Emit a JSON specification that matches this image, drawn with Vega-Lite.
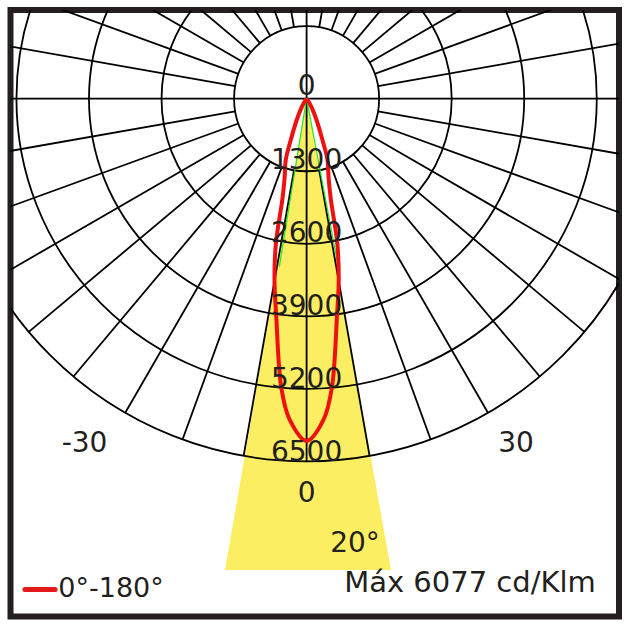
{
  "$schema": "https://vega.github.io/schema/vega-lite/v6.json",
  "width": 608.5,
  "height": 606.5,
  "autosize": {"type": "none"},
  "padding": {"left": 10.5, "top": 10, "right": 11, "bottom": 11.5},
  "background": "white",
  "config": {"view": {"stroke": "#231f20", "strokeWidth": 6}},
  "datasets": {
    "cone": [
      {"y": 0, "xl": 0, "xr": 0},
      {"y": -8446, "xl": -1462, "xr": 1513}
    ],
    "rings": [
      {"ring": 1300, "cx": 0, "cy": 0},
      {"ring": 2600, "cx": 0, "cy": 0},
      {"ring": 3900, "cx": 0, "cy": 0},
      {"ring": 5200, "cx": 0, "cy": 0},
      {"ring": 6500, "cx": 0, "cy": 0}
    ],
    "spokes": [
      {"x": -6500, "y": 0, "x2": 6500, "y2": 0},
      {"x": 0, "y": -6500, "x2": 0, "y2": 6500},
      {"x": 225.7, "y": 1280.2, "x2": 1128.7, "y2": 6401.3},
      {"x": 444.6, "y": 1221.6, "x2": 2223.1, "y2": 6108.0},
      {"x": 650, "y": 1125.8, "x2": 3250, "y2": 5629.2},
      {"x": 835.6, "y": 995.9, "x2": 4178.1, "y2": 4979.3},
      {"x": 995.9, "y": 835.6, "x2": 4979.3, "y2": 4178.1},
      {"x": 1125.8, "y": 650, "x2": 5629.2, "y2": 3250},
      {"x": 1221.6, "y": 444.6, "x2": 6108.0, "y2": 2223.1},
      {"x": 1280.2, "y": 225.7, "x2": 6401.3, "y2": 1128.7},
      {"x": -225.7, "y": 1280.2, "x2": -1128.7, "y2": 6401.3},
      {"x": -444.6, "y": 1221.6, "x2": -2223.1, "y2": 6108.0},
      {"x": -650, "y": 1125.8, "x2": -3250, "y2": 5629.2},
      {"x": -835.6, "y": 995.9, "x2": -4178.1, "y2": 4979.3},
      {"x": -995.9, "y": 835.6, "x2": -4979.3, "y2": 4178.1},
      {"x": -1125.8, "y": 650, "x2": -5629.2, "y2": 3250},
      {"x": -1221.6, "y": 444.6, "x2": -6108.0, "y2": 2223.1},
      {"x": -1280.2, "y": 225.7, "x2": -6401.3, "y2": 1128.7},
      {"x": 225.7, "y": -1280.2, "x2": 1128.7, "y2": -6401.3},
      {"x": 444.6, "y": -1221.6, "x2": 2223.1, "y2": -6108.0},
      {"x": 650, "y": -1125.8, "x2": 3250, "y2": -5629.2},
      {"x": 835.6, "y": -995.9, "x2": 4178.1, "y2": -4979.3},
      {"x": 995.9, "y": -835.6, "x2": 4979.3, "y2": -4178.1},
      {"x": 1125.8, "y": -650, "x2": 5629.2, "y2": -3250},
      {"x": 1221.6, "y": -444.6, "x2": 6108.0, "y2": -2223.1},
      {"x": 1280.2, "y": -225.7, "x2": 6401.3, "y2": -1128.7},
      {"x": -225.7, "y": -1280.2, "x2": -1128.7, "y2": -6401.3},
      {"x": -444.6, "y": -1221.6, "x2": -2223.1, "y2": -6108.0},
      {"x": -650, "y": -1125.8, "x2": -3250, "y2": -5629.2},
      {"x": -835.6, "y": -995.9, "x2": -4178.1, "y2": -4979.3},
      {"x": -995.9, "y": -835.6, "x2": -4979.3, "y2": -4178.1},
      {"x": -1125.8, "y": -650, "x2": -5629.2, "y2": -3250},
      {"x": -1221.6, "y": -444.6, "x2": -6108.0, "y2": -2223.1},
      {"x": -1280.2, "y": -225.7, "x2": -6401.3, "y2": -1128.7}
    ],
    "green": [
      {"x": 0, "y": 0, "x2": -489, "y2": -3011},
      {"x": 0, "y": 0, "x2": 568, "y2": -3011}
    ],
    "curve": [
      {"angle": -40, "cd": 0, "x": 0, "y": 0},
      {"angle": -35, "cd": 50, "x": -28.7, "y": -41},
      {"angle": -30, "cd": 180, "x": -90, "y": -155.9},
      {"angle": -25, "cd": 421, "x": -177.9, "y": -381.6},
      {"angle": -21, "cd": 789, "x": -282.8, "y": -736.6},
      {"angle": -18.8, "cd": 1161, "x": -374.2, "y": -1099},
      {"angle": -15.4, "cd": 1484, "x": -395, "y": -1430},
      {"angle": -13.5, "cd": 1864, "x": -435.2, "y": -1812},
      {"angle": -12, "cd": 2643, "x": -549.5, "y": -2585},
      {"angle": -10, "cd": 3315, "x": -575.6, "y": -3265},
      {"angle": -8, "cd": 3915, "x": -544.9, "y": -3877},
      {"angle": -5, "cd": 5200, "x": -453.2, "y": -5180},
      {"angle": -3, "cd": 5765, "x": -301.7, "y": -5757},
      {"angle": 0, "cd": 6134, "x": 0, "y": -6134},
      {"angle": 3, "cd": 5765, "x": 301.7, "y": -5757},
      {"angle": 5, "cd": 5200, "x": 453.2, "y": -5180},
      {"angle": 8, "cd": 3915, "x": 544.9, "y": -3877},
      {"angle": 10, "cd": 3315, "x": 575.6, "y": -3265},
      {"angle": 12, "cd": 2643, "x": 549.5, "y": -2585},
      {"angle": 13.5, "cd": 1864, "x": 435.2, "y": -1812},
      {"angle": 15.4, "cd": 1484, "x": 395, "y": -1430},
      {"angle": 18.8, "cd": 1161, "x": 374.2, "y": -1099},
      {"angle": 21, "cd": 789, "x": 282.8, "y": -736.6},
      {"angle": 25, "cd": 421, "x": 177.9, "y": -381.6},
      {"angle": 30, "cd": 180, "x": 90, "y": -155.9},
      {"angle": 35, "cd": 50, "x": 28.7, "y": -41},
      {"angle": 40, "cd": 0, "x": 0, "y": 0}
    ],
    "labels": [
      {"label": "0", "x": 0, "y": 60},
      {"label": "1300", "x": 0, "y": -1260},
      {"label": "2600", "x": 0, "y": -2570},
      {"label": "3900", "x": 0, "y": -3870},
      {"label": "5200", "x": 0, "y": -5190},
      {"label": "6500", "x": 0, "y": -6490},
      {"label": "-30", "x": -3980, "y": -6326},
      {"label": "30", "x": 3753, "y": -6326},
      {"label": "0", "x": 0, "y": -7222},
      {"label": "20°", "x": 867, "y": -8120}
    ],
    "maxlabel": [
      {"label": "Máx 6077 cd/Klm", "x": 2928, "y": -8849}
    ],
    "legendline": [
      {"x": -5048, "x2": -4507, "y": -8794}
    ],
    "legendtext": [
      {"label": "0°-180°", "x": -4450, "y": -8935}
    ]
  },
  "layer": [
    {
      "data": {"name": "cone"},
      "mark": {"type": "area", "orient": "horizontal", "color": "#fcee63", "opacity": 1, "clip": true},
      "encoding": {
        "y": {"field": "y", "type": "quantitative", "axis": null, "scale": {"domain": [-9279.6, 1589.6], "nice": false, "zero": false}},
        "x": {"field": "xl", "type": "quantitative", "axis": null, "scale": {"domain": [-5306.5, 5598.6], "nice": false, "zero": false}},
        "x2": {"field": "xr"}
      }
    },
    {
      "data": {"name": "rings"},
      "mark": {"type": "point", "shape": "circle", "filled": false, "color": "#000", "strokeWidth": 1.8, "opacity": 1, "clip": true},
      "encoding": {
        "x": {"field": "cx", "type": "quantitative", "axis": null},
        "y": {"field": "cy", "type": "quantitative", "axis": null},
        "size": {"field": "ring", "type": "quantitative", "legend": null, "scale": {"type": "pow", "exponent": 2, "domain": [0, 6500], "range": [0, 526205], "zero": true}}
      }
    },
    {
      "data": {"name": "spokes"},
      "mark": {"type": "rule", "color": "#000", "strokeWidth": 1.8, "clip": true},
      "encoding": {
        "x": {"field": "x", "type": "quantitative", "axis": null},
        "y": {"field": "y", "type": "quantitative", "axis": null},
        "x2": {"field": "x2"},
        "y2": {"field": "y2"}
      }
    },
    {
      "data": {"name": "green"},
      "mark": {"type": "rule", "color": "#22e822", "strokeWidth": 1.2, "clip": true},
      "encoding": {
        "x": {"field": "x", "type": "quantitative", "axis": null},
        "y": {"field": "y", "type": "quantitative", "axis": null},
        "x2": {"field": "x2"},
        "y2": {"field": "y2"}
      }
    },
    {
      "data": {"name": "curve"},
      "mark": {"type": "line", "color": "#f01010", "strokeWidth": 4, "interpolate": "catmull-rom", "strokeJoin": "round", "clip": true},
      "encoding": {
        "x": {"field": "x", "type": "quantitative", "axis": null},
        "y": {"field": "y", "type": "quantitative", "axis": null},
        "order": {"field": "angle", "type": "quantitative"}
      }
    },
    {
      "data": {"name": "labels"},
      "mark": {"type": "text", "font": "DejaVu Sans", "fontSize": 28, "color": "#231f20", "align": "center", "baseline": "alphabetic"},
      "encoding": {
        "x": {"field": "x", "type": "quantitative", "axis": null},
        "y": {"field": "y", "type": "quantitative", "axis": null},
        "text": {"field": "label"}
      }
    },
    {
      "data": {"name": "maxlabel"},
      "mark": {"type": "text", "font": "DejaVu Sans", "fontSize": 29, "color": "#231f20", "align": "center", "baseline": "alphabetic"},
      "encoding": {
        "x": {"field": "x", "type": "quantitative", "axis": null},
        "y": {"field": "y", "type": "quantitative", "axis": null},
        "text": {"field": "label"}
      }
    },
    {
      "data": {"name": "legendline"},
      "mark": {"type": "rule", "color": "#e3191c", "strokeWidth": 5, "strokeCap": "round"},
      "encoding": {
        "x": {"field": "x", "type": "quantitative", "axis": null},
        "x2": {"field": "x2"},
        "y": {"field": "y", "type": "quantitative", "axis": null}
      }
    },
    {
      "data": {"name": "legendtext"},
      "mark": {"type": "text", "font": "DejaVu Sans", "fontSize": 27, "color": "#231f20", "align": "left", "baseline": "alphabetic"},
      "encoding": {
        "x": {"field": "x", "type": "quantitative", "axis": null},
        "y": {"field": "y", "type": "quantitative", "axis": null},
        "text": {"field": "label"}
      }
    }
  ]
}
